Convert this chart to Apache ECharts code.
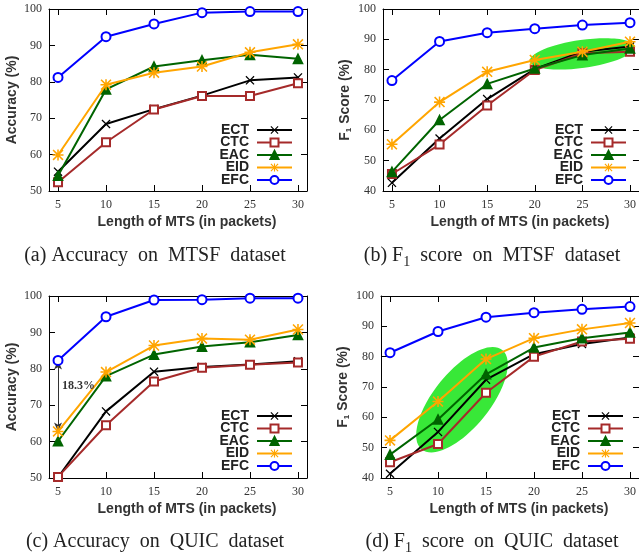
<!DOCTYPE html>
<html>
<head>
<meta charset="utf-8">
<script src="https://cdn.jsdelivr.net/npm/echarts@6/dist/echarts.min.js"></script>
<style>
html, body { margin: 0; padding: 0; background: #fff; }
#chart { width: 639px; height: 557px; }
</style>
</head>
<body>
<div id="chart"></div>
<script>
var packetLengths = [5, 10, 15, 20, 25, 30];
var methodNames = ['ECT', 'CTC', 'EAC', 'EID', 'EFC'];

// (a) accuracy on MTSF
var accMtsfECT = [55.3, 68.4, 72.5, 76.2, 80.4, 81.2];
var accMtsfCTC = [52.4, 63.4, 72.4, 76.1, 76.1, 79.6];
var accMtsfEAC = [54.2, 77.9, 84.2, 85.9, 87.4, 86.3];
var accMtsfEID = [59.9, 79.2, 82.5, 84.2, 88.1, 90.3];
var accMtsfEFC = [81.2, 92.4, 95.9, 99.0, 99.3, 99.3];

// (b) F1 on MTSF
var f1MtsfECT = [42.7, 57.3, 70.3, 80.2, 85.9, 87.6];
var f1MtsfCTC = [45.6, 55.3, 68.2, 79.9, 85.4, 85.9];
var f1MtsfEAC = [46.3, 63.4, 75.3, 80.4, 84.8, 87.0];
var f1MtsfEID = [55.4, 69.3, 79.3, 83.2, 85.9, 89.2];
var f1MtsfEFC = [76.4, 89.3, 92.2, 93.5, 94.7, 95.5];

// (c) accuracy on QUIC
var accQuicECT = [50.2, 68.3, 79.2, 80.5, 81.2, 82.1];
var accQuicCTC = [50.3, 64.5, 76.5, 80.3, 81.1, 81.7];
var accQuicEAC = [60.1, 78.0, 83.9, 86.1, 87.3, 89.3];
var accQuicEID = [62.8, 79.1, 86.4, 88.3, 88.0, 90.8];
var accQuicEFC = [82.3, 94.3, 98.9, 99.0, 99.4, 99.4];

// (d) F1 on QUIC
var f1QuicECT = [41.4, 55.2, 72.4, 80.8, 84.2, 86.3];
var f1QuicCTC = [45.2, 51.2, 68.1, 80.0, 85.0, 85.9];
var f1QuicEAC = [47.7, 59.3, 74.2, 83.0, 86.1, 88.0];
var f1QuicEID = [52.4, 65.2, 79.2, 86.1, 89.0, 91.1];
var f1QuicEFC = [81.3, 88.3, 93.0, 94.5, 95.6, 96.5];

var yTickMinAcc = 50;
var yTickMinF1 = 40;
var gapLabel = '18.3%';

var panelValues = [
    [accMtsfECT, accMtsfCTC, accMtsfEAC, accMtsfEID, accMtsfEFC],
    [f1MtsfECT, f1MtsfCTC, f1MtsfEAC, f1MtsfEID, f1MtsfEFC],
    [accQuicECT, accQuicCTC, accQuicEAC, accQuicEID, accQuicEFC],
    [f1QuicECT, f1QuicCTC, f1QuicEAC, f1QuicEID, f1QuicEFC]
];

var crossPath = 'path://M1,0L5,4L9,0L10,1L6,5L10,9L9,10L5,6L1,10L0,9L4,5L0,1Z';
var starPath = 'path://M1,0L5,4L9,0L10,1L6,5L10,9L9,10L5,6L1,10L0,9L4,5L0,1Z' +
    'M4.3,0L5.7,0L5.7,4.3L10,4.3L10,5.7L5.7,5.7L5.7,10L4.3,10L4.3,5.7L0,5.7L0,4.3L4.3,4.3Z';

var methodStyles = {
    ECT: {color: '#000000', symbol: crossPath, size: 9},
    CTC: {color: '#a52a2a', symbol: 'emptyRect', size: 8},
    EAC: {color: '#006400', symbol: 'triangle', size: 9},
    EID: {color: '#ffa500', symbol: starPath, size: 11},
    EFC: {color: '#0000ff', symbol: 'emptyCircle', size: 9}
};

var sansFont = '"Liberation Sans", Arial, sans-serif';
var serifFont = '"Liberation Serif", "Times New Roman", serif';

var panels = [
    {left: 49, top: 9, yMin: yTickMinAcc, yName: 'Accuracy (%)', legendRight: 346, legendTop: 123},
    {left: 383, top: 9, yMin: yTickMinF1, yName: '{t|F}{s|1}{t| Score (%)}', legendRight: 12, legendTop: 123},
    {left: 49, top: 296, yMin: yTickMinAcc, yName: 'Accuracy (%)', legendRight: 346, legendTop: 409},
    {left: 381, top: 296, yMin: yTickMinF1, yName: '{t|F}{s|1}{t| Score (%)}', legendRight: 15, legendTop: 409}
];

var xMin = 4.06, xMax = 30.94;
var frameLine = {show: true, lineStyle: {color: '#000', width: 1}};
var innerTick = {show: true, inside: true, length: 6, lineStyle: {color: '#000', width: 1}};

var grids = [], xAxes = [], yAxes = [], legends = [], series = [];

panels.forEach(function (p, g) {
    grids.push({left: p.left, top: p.top, width: 258, height: 182, containLabel: false});

    xAxes.push({
        type: 'value', gridIndex: g, position: 'bottom', min: xMin, max: xMax,
        name: 'Length of MTS (in packets)', nameLocation: 'middle', nameGap: 24,
        nameTextStyle: {fontFamily: sansFont, fontWeight: 'bold', fontSize: 14, color: '#333', padding: [0, 0, 0, 18]},
        axisLine: frameLine, axisTick: innerTick, splitLine: {show: false},
        axisLabel: {
            margin: 8, showMinLabel: false, showMaxLabel: false,
            fontFamily: serifFont, fontSize: 12, color: '#333',
            formatter: function (v) { return v % 5 === 0 ? String(v) : ''; }
        }
    });
    xAxes.push({
        type: 'value', gridIndex: g, position: 'top', min: xMin, max: xMax,
        axisLine: frameLine, axisTick: innerTick, splitLine: {show: false}, axisLabel: {show: false}
    });

    yAxes.push({
        type: 'value', gridIndex: g, position: 'left', min: p.yMin, max: 100, interval: 10,
        name: p.yName, nameLocation: 'middle', nameGap: 30,
        nameTextStyle: {
            fontFamily: sansFont, fontWeight: 'bold', fontSize: 14, color: '#333',
            rich: {
                t: {fontFamily: sansFont, fontWeight: 'bold', fontSize: 14, color: '#333'},
                s: {fontFamily: sansFont, fontWeight: 'bold', fontSize: 8, color: '#333', padding: [8, 0, 0, 0]}
            }
        },
        axisLine: frameLine, axisTick: innerTick, splitLine: {show: false},
        axisLabel: {margin: 7, fontFamily: serifFont, fontSize: 12, color: '#333'}
    });
    yAxes.push({
        type: 'value', gridIndex: g, position: 'right', min: p.yMin, max: 100, interval: 10,
        axisLine: frameLine, axisTick: innerTick, splitLine: {show: false}, axisLabel: {show: false}
    });

    legends.push({
        orient: 'vertical', align: 'right', right: p.legendRight, top: p.legendTop,
        itemWidth: 35, itemHeight: 10, itemGap: -1.5, padding: 0, selectedMode: false,
        data: methodNames,
        textStyle: {fontFamily: sansFont, fontWeight: 'bold', fontSize: 14, color: '#222', lineHeight: 12, padding: [0, 3, 0, 0]}
    });

    methodNames.forEach(function (name, k) {
        var st = methodStyles[name];
        var isPath = st.symbol.indexOf('path://') === 0;
        series.push({
            name: name, type: 'line', xAxisIndex: 2 * g, yAxisIndex: 2 * g,
            data: packetLengths.map(function (x, i) { return [x, panelValues[g][k][i]]; }),
            symbol: st.symbol, symbolSize: st.size, showAllSymbol: true,
            lineStyle: {color: st.color, width: 2},
            itemStyle: {color: st.color, borderColor: st.color, borderWidth: isPath ? 0 : 1.6},
            emphasis: {disabled: true},
            z: 3 + k
        });
    });
});

// double arrow between EFC and EID at the first point of (c)
series[2 * 5 + 3].markLine = {
    silent: true, animation: false,
    symbol: ['arrow', 'arrow'], symbolSize: [6, 9],
    lineStyle: {color: '#333', width: 1, type: 'solid'},
    label: {show: false},
    data: [[{coord: [packetLengths[0], accQuicEFC[0]]}, {coord: [packetLengths[0], accQuicEID[0]]}]]
};

var chart = echarts.init(document.getElementById('chart'), null, {renderer: 'canvas'});
chart.setOption({
    animation: false,
    backgroundColor: '#fff',
    grid: grids,
    xAxis: xAxes,
    yAxis: yAxes,
    legend: legends,
    tooltip: {show: false},
    series: series
});

var captionRich = {
    n: {fontFamily: serifFont, fontSize: 20, fill: '#222'},
    s: {fontFamily: serifFont, fontSize: 14, fill: '#222', padding: [12, 0, 0, 0]}
};
function caption(text, x, y) {
    return {
        type: 'text', x: x, y: y, z: 10,
        style: {text: text, align: 'center', verticalAlign: 'middle', rich: captionRich}
    };
}

var ellB = chart.convertToPixel({xAxisIndex: 2, yAxisIndex: 2}, [25, 85.2]);
var ellD = chart.convertToPixel({xAxisIndex: 6, yAxisIndex: 6}, [12.5, 65.8]);
var gapPos = chart.convertToPixel({xAxisIndex: 4, yAxisIndex: 4}, [packetLengths[0], 75.3]);

chart.setOption({
    graphic: [
        {type: 'ellipse', x: ellB[0], y: ellB[1], rotation: 8 * Math.PI / 180, z: 1,
            shape: {cx: 0, cy: 0, rx: 53, ry: 14}, style: {fill: '#38e838'}},
        {type: 'ellipse', x: ellD[0], y: ellD[1], rotation: 51 * Math.PI / 180, z: 1,
            shape: {cx: 0, cy: 0, rx: 64, ry: 28}, style: {fill: '#38e838'}},
        {type: 'text', x: gapPos[0] + 4, y: gapPos[1], z: 10,
            style: {text: gapLabel, fontFamily: serifFont, fontWeight: 'bold', fontSize: 12, fill: '#333', verticalAlign: 'middle'}},
        caption('{n|(a) Accuracy  on  MTSF  dataset}', 155, 256),
        caption('{n|(b) F}{s|1}{n|  score  on  MTSF  dataset}', 492, 256),
        caption('{n|(c) Accuracy  on  QUIC  dataset}', 155, 542),
        caption('{n|(d) F}{s|1}{n|  score  on  QUIC  dataset}', 492, 542)
    ]
});
</script>
</body>
</html>
